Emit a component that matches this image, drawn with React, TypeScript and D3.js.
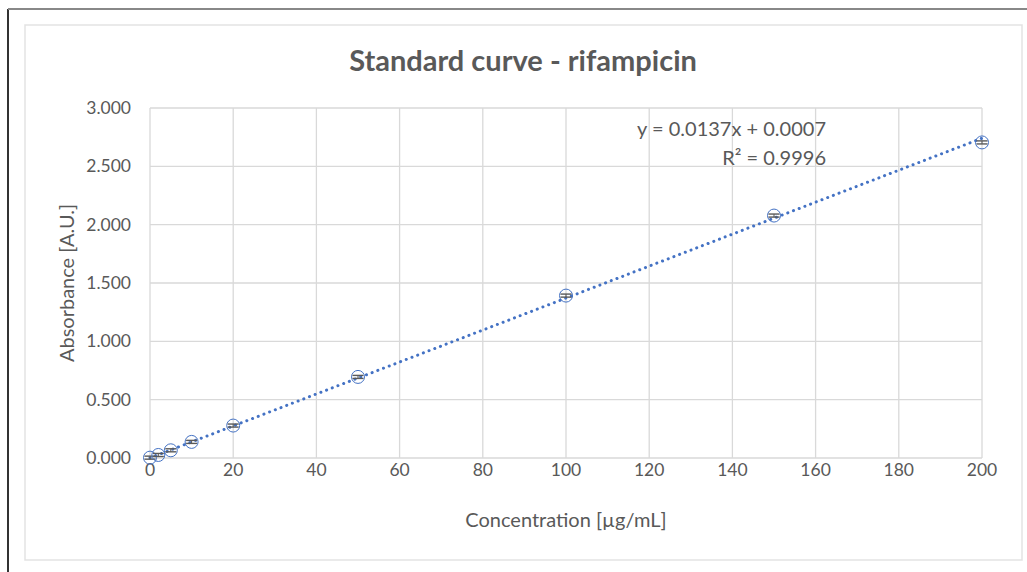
import { useEffect } from 'react';
import * as d3 from 'd3';

// measured standards (concentration in µg/mL, absorbance in A.U.)
const concentrations = [0, 2, 5, 10, 20, 50, 100, 150, 200];
const absorbance = [0.003, 0.026, 0.066, 0.138, 0.278, 0.695, 1.392, 2.078, 2.705];
const errors = [0.013, 0.013, 0.013, 0.013, 0.013, 0.013, 0.013, 0.013, 0.013];

const xTicks = [0, 20, 40, 60, 80, 100, 120, 140, 160, 180, 200];
const yTicks = [0, 0.5, 1, 1.5, 2, 2.5, 3];

const slope = 0.0137;
const intercept = 0.0007;
const equationLabel = 'y = 0.0137x + 0.0007';
const r2Label = 'R² = 0.9996';

const W = 1027;
const H = 572;
const margin = { left: 150, right: 45, top: 108, bottom: 114 };
const font = 'Lato, "Open Sans", sans-serif';
const textColor = '#595959';
const blue = '#4472C4';

export default function App() {
  useEffect(() => {
    document.body.style.margin = '0';
  }, []);

  const x = d3.scaleLinear().domain([0, 200]).range([margin.left, W - margin.right]);
  const y = d3.scaleLinear().domain([0, 3]).range([H - margin.bottom, margin.top]);

  const fit = d3
    .line<number>()
    .x((d) => x(d))
    .y((d) => y(slope * d + intercept));

  return (
    <svg width={W} height={H} style={{ display: 'block', fontFamily: font }}>
      <rect x={0} y={0} width={W} height={H} fill="#fff" />
      {/* outer frame */}
      <line x1={8} y1={9} x2={8} y2={H} stroke="#333" strokeWidth={2} />
      <line x1={8} y1={9} x2={W} y2={9} stroke="#888" strokeWidth={2} />
      {/* chart area border */}
      <rect x={25} y={25} width={997} height={535} fill="#fff" stroke="#e3e3e3" strokeWidth={1.5} />

      <text x={523} y={71} textAnchor="middle" fontSize={29} fontWeight="bold" fill={textColor}>
        Standard curve - rifampicin
      </text>

      {/* gridlines */}
      {xTicks.map((t) => (
        <line key={`gx${t}`} x1={x(t)} x2={x(t)} y1={y(0)} y2={y(3)} stroke="#d9d9d9" strokeWidth={1.3} />
      ))}
      {yTicks.map((t) => (
        <line key={`gy${t}`} x1={x(0)} x2={x(200)} y1={y(t)} y2={y(t)} stroke="#d9d9d9" strokeWidth={1.3} />
      ))}

      {/* tick labels */}
      {yTicks.map((t) => (
        <text key={`ly${t}`} x={131} y={y(t) + 6} textAnchor="end" fontSize={17.5} fill={textColor}>
          {d3.format('.3f')(t)}
        </text>
      ))}
      {xTicks.map((t) => (
        <text key={`lx${t}`} x={x(t)} y={y(0) + 18} textAnchor="middle" fontSize={17.5} fill={textColor}>
          {t}
        </text>
      ))}

      <text x={566} y={527} textAnchor="middle" fontSize={20} fill={textColor}>
        Concentration [µg/mL]
      </text>
      <text
        transform={`translate(74, ${(y(0) + y(3)) / 2}) rotate(-90)`}
        textAnchor="middle"
        fontSize={20}
        fill={textColor}
      >
        Absorbance [A.U.]
      </text>

      {/* linear trendline */}
      <path
        d={fit([0, 200]) ?? ''}
        fill="none"
        stroke={blue}
        strokeWidth={3}
        strokeDasharray="0.1 6"
        strokeLinecap="round"
      />

      {/* markers with error bars */}
      {concentrations.map((c, i) => {
        const cx = x(c);
        const v = absorbance[i];
        const e = errors[i];
        return (
          <g key={`p${c}`}>
            <circle cx={cx} cy={y(v)} r={6.5} fill="none" stroke={blue} strokeWidth={1} />
            <line x1={cx} x2={cx} y1={y(v - e)} y2={y(v + e)} stroke={textColor} strokeWidth={1} />
            <line x1={cx - 5.5} x2={cx + 5.5} y1={y(v - e)} y2={y(v - e)} stroke={textColor} strokeWidth={1.4} />
            <line x1={cx - 5.5} x2={cx + 5.5} y1={y(v + e)} y2={y(v + e)} stroke={textColor} strokeWidth={1.4} />
          </g>
        );
      })}

      <text x={826} y={136} textAnchor="end" fontSize={20} fill={textColor}>
        {equationLabel}
      </text>
      <text x={826} y={165} textAnchor="end" fontSize={20} fill={textColor}>
        {r2Label}
      </text>
    </svg>
  );
}
